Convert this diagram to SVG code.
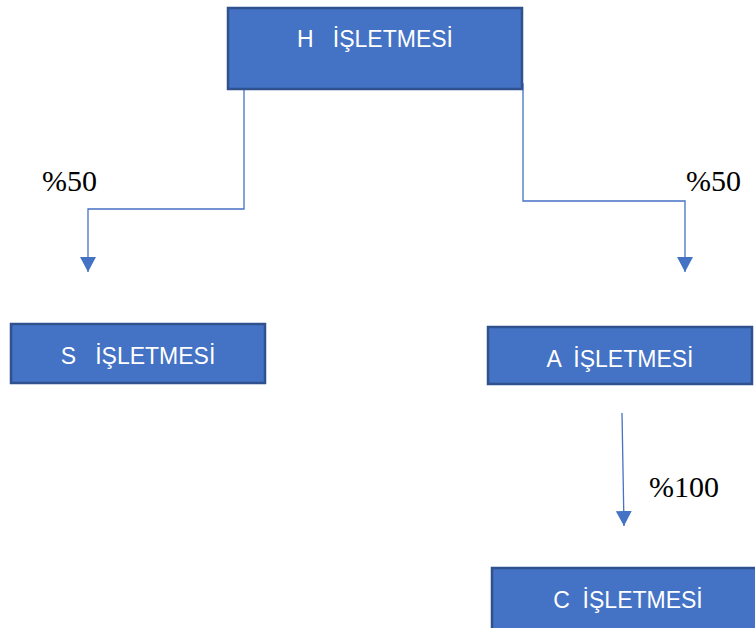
<svg xmlns="http://www.w3.org/2000/svg" width="755" height="628" viewBox="0 0 755 628">
<style>
.box{fill:#4472C4;stroke:#2F528F;stroke-width:2.5}
.lbl{fill:#fff;font-family:"Liberation Sans",Arial,sans-serif;font-size:23px;text-anchor:middle;white-space:pre}
.pct{fill:#000;font-family:"Liberation Serif","Times New Roman",serif;font-size:30px}
.con{fill:none;stroke:#4472C4;stroke-width:1.3}
</style>
<defs>
<marker id="ah" viewBox="0 0 16 16" refX="15" refY="8" markerWidth="16" markerHeight="16" orient="auto" markerUnits="userSpaceOnUse">
<path d="M0,0 L15,8 L0,16 Z" fill="#4472C4"/>
</marker>
</defs>
<rect width="755" height="628" fill="#fff"/>
<g id="connectors">
<polyline class="con" points="244,89 244,209 88,209 88,272" marker-end="url(#ah)"/>
<polyline class="con" points="522,84 523,84 523,201 685,201 685,272" marker-end="url(#ah)"/>
<line class="con" x1="622" y1="413" x2="624" y2="526" marker-end="url(#ah)"/>
<text class="pct" x="42" y="191">%50</text>
<text class="pct" x="686" y="191">%50</text>
<text class="pct" x="649" y="497">%100</text>
</g>
<g id="node-H">
<rect class="box" x="228" y="8" width="294" height="81"/>
<text class="lbl" x="375" y="47">H   İŞLETMESİ</text>
</g>
<g id="node-S">
<rect class="box" x="11" y="324" width="254" height="59"/>
<text class="lbl" x="138" y="364">S   İŞLETMESİ</text>
</g>
<g id="node-A">
<rect class="box" x="488" y="327" width="264" height="57"/>
<text class="lbl" x="620" y="367">A  İŞLETMESİ</text>
</g>
<g id="node-C">
<rect class="box" x="492" y="568" width="275" height="70"/>
<text class="lbl" x="628" y="608">C  İŞLETMESİ</text>
</g>
</svg>
